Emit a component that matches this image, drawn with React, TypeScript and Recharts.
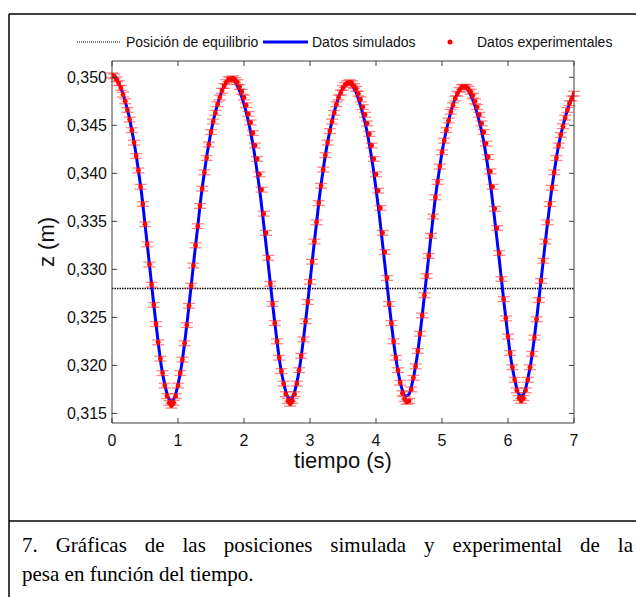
import React from 'react';
import { ComposedChart, Line, Scatter, ErrorBar, XAxis, YAxis, ReferenceLine } from 'recharts';

// sampling of the two series
const SIM_STEP = 0.05; // s between simulated samples
const EXP_FPS = 30; // video frames per second
const EQUILIBRIUM = 0.328;
const EXP_ERROR = 0.00025;

// simulated z (m), one value every 0.05 s from 0 to 7 s
const simZ = [
  0.3502, 0.35, 0.3494, 0.3486, 0.3475, 0.3462, 0.3445, 0.3426, 0.3403, 0.3378,
  0.3347, 0.3316, 0.3284, 0.3253, 0.3224, 0.3198, 0.318, 0.3167, 0.3163, 0.3167,
  0.318, 0.3198, 0.3223, 0.3252, 0.3283, 0.3315, 0.3345, 0.3376, 0.3401, 0.3424,
  0.3443, 0.3459, 0.3472, 0.3483, 0.3491, 0.3497, 0.3499, 0.3497, 0.3491, 0.3483,
  0.3472, 0.3459, 0.3443, 0.3424, 0.3401, 0.3376, 0.3346, 0.3316, 0.3285, 0.3254,
  0.3225, 0.32, 0.3182, 0.3169, 0.3165, 0.3169, 0.3182, 0.3201, 0.3227, 0.3256,
  0.3287, 0.3319, 0.3349, 0.3379, 0.3404, 0.3426, 0.3444, 0.3459, 0.3472, 0.3482,
  0.3489, 0.3494, 0.3494, 0.349, 0.3484, 0.3474, 0.3462, 0.3448, 0.343, 0.3409,
  0.3384, 0.3357, 0.3326, 0.3295, 0.3264, 0.3234, 0.3208, 0.3188, 0.3174, 0.3168,
  0.317, 0.3182, 0.3199, 0.3223, 0.3252, 0.3283, 0.3314, 0.3345, 0.3375, 0.3399,
  0.3422, 0.344, 0.3455, 0.3468, 0.3478, 0.3485, 0.349, 0.349, 0.3486, 0.3479,
  0.347, 0.3458, 0.3444, 0.3426, 0.3404, 0.338, 0.3351, 0.3321, 0.329, 0.3259,
  0.323, 0.3204, 0.3186, 0.3172, 0.3168, 0.3172, 0.3186, 0.3204, 0.3229, 0.3258,
  0.3288, 0.3319, 0.3349, 0.3377, 0.3401, 0.3423, 0.344, 0.3454, 0.3466, 0.3476,
  0.3483,
];

// experimental z (m), one value per video frame (1/30 s) from 0 to 7 s
const expZ = [
  0.3502, 0.3501, 0.3498, 0.3494, 0.3489, 0.3482, 0.3475, 0.3466, 0.3456, 0.3445,
  0.3432, 0.3418, 0.3403, 0.3386, 0.3368, 0.3347, 0.3326, 0.3305, 0.3284, 0.3263,
  0.3243, 0.3224, 0.3207, 0.3192, 0.3179, 0.3168, 0.3161, 0.3158, 0.3161, 0.3168,
  0.3179, 0.3192, 0.3206, 0.3223, 0.3242, 0.3262, 0.3283, 0.3304, 0.3325, 0.3345,
  0.3366, 0.3384, 0.3401, 0.3416, 0.343, 0.3443, 0.3454, 0.3463, 0.3472, 0.3479,
  0.3486, 0.3491, 0.3495, 0.3498, 0.3498, 0.3499, 0.3497, 0.3495, 0.349, 0.3485,
  0.3479, 0.3471, 0.3462, 0.3453, 0.3442, 0.3429, 0.3415, 0.3399, 0.3383, 0.3358,
  0.3338, 0.3312, 0.3285, 0.3264, 0.3244, 0.3225, 0.3208, 0.3194, 0.3181, 0.317,
  0.3163, 0.316, 0.3163, 0.317, 0.3181, 0.3195, 0.321, 0.3227, 0.3246, 0.3266,
  0.3287, 0.3308, 0.3329, 0.3349, 0.3369, 0.3387, 0.3404, 0.3419, 0.3432, 0.3444,
  0.3454, 0.3463, 0.3472, 0.3479, 0.3484, 0.3489, 0.3492, 0.3494, 0.3495, 0.3494,
  0.3491, 0.3488, 0.3483, 0.3477, 0.3469, 0.3461, 0.3452, 0.3441, 0.3429, 0.3415,
  0.3399, 0.3382, 0.3364, 0.3338, 0.3318, 0.3291, 0.3264, 0.3244, 0.3225, 0.3208,
  0.3195, 0.3182, 0.3171, 0.3165, 0.3162, 0.3163, 0.3175, 0.3187, 0.3199, 0.3215,
  0.3233, 0.3252, 0.3273, 0.3293, 0.3314, 0.3335, 0.3355, 0.3375, 0.3391, 0.3407,
  0.3422, 0.3434, 0.3445, 0.3455, 0.3464, 0.3471, 0.3478, 0.3483, 0.3487, 0.349,
  0.349, 0.349, 0.3488, 0.3485, 0.3481, 0.3475, 0.3469, 0.3461, 0.3452, 0.3443,
  0.3431, 0.3417, 0.3402, 0.3386, 0.3363, 0.3343, 0.3317, 0.329, 0.3269, 0.3249,
  0.323, 0.3213, 0.3198, 0.3185, 0.3174, 0.3166, 0.3163, 0.3166, 0.3174, 0.3185,
  0.3198, 0.3212, 0.3229, 0.3248, 0.3268, 0.3288, 0.3309, 0.3329, 0.3349, 0.3368,
  0.3385, 0.3401, 0.3416, 0.3429, 0.344, 0.3449, 0.3458, 0.3466, 0.3473, 0.3478,
  0.3483,
];

const xTicks = [0, 1, 2, 3, 4, 5, 6, 7];
const yTicks = [0.315, 0.32, 0.325, 0.33, 0.335, 0.34, 0.345, 0.35];
const Y_MIN = 0.314;
const Y_MAX = 0.3517;

const simData = simZ.map((z, i) => ({ t: +(i * SIM_STEP).toFixed(3), z }));
const expData = expZ.map((z, i) => ({ t: i / EXP_FPS, z, err: EXP_ERROR }));

const AXIS = '#404040';
const SANS = '"Liberation Sans", Arial, Helvetica, sans-serif';
const SERIF = '"Liberation Serif", "Times New Roman", serif';
const TICK_LEN = 5;

const fmtY = (v: number) => v.toFixed(3).replace('.', ',');

// MATLAB style: ticks point inward on all four sides
const BottomTick = ({ x, y, payload }: any) => (
  <g>
    <line x1={x} y1={y} x2={x} y2={y - TICK_LEN} stroke={AXIS} />
    <text x={x} y={y + 23} textAnchor="middle" fontSize={16} fontFamily={SANS} fill="#111">
      {payload.value}
    </text>
  </g>
);

const TopTick = ({ x, y }: any) => (
  <line x1={x} y1={y} x2={x} y2={y + TICK_LEN} stroke={AXIS} />
);

const LeftTick = ({ x, y, payload }: any) => (
  <g>
    <line x1={x} y1={y} x2={x + TICK_LEN} y2={y} stroke={AXIS} />
    <text x={x - 5} y={y + 6} textAnchor="end" fontSize={16} fontFamily={SANS} fill="#111">
      {fmtY(payload.value)}
    </text>
  </g>
);

const RightTick = ({ x, y }: any) => (
  <line x1={x} y1={y} x2={x - TICK_LEN} y2={y} stroke={AXIS} />
);

const ExpDot = (props: any) => <circle cx={props.cx} cy={props.cy} r={2.4} fill="#ff0000" />;

export default function App() {
  return (
    <div style={{ position: 'absolute', left: 0, top: 0, width: 636, height: 597, background: '#fff', overflow: 'hidden' }}>
      <div style={{ position: 'absolute', left: 0, top: 0 }}>
        <ComposedChart width={636} height={520} margin={{ top: 60, right: 61, bottom: 67, left: 52 }}>
          <XAxis xAxisId="b" dataKey="t" type="number" domain={[0, 7]} ticks={xTicks} interval={0}
            allowDataOverflow height={30} tickSize={0} tickMargin={0} tickLine={false}
            axisLine={{ stroke: AXIS }} tick={BottomTick} />
          <XAxis xAxisId="top" orientation="top" dataKey="t" type="number" domain={[0, 7]} ticks={xTicks} interval={0}
            allowDataOverflow height={1} tickSize={0} tickMargin={0} tickLine={false}
            axisLine={{ stroke: AXIS }} tick={TopTick} />
          <YAxis yAxisId="l" type="number" domain={[Y_MIN, Y_MAX]} ticks={yTicks} interval={0}
            allowDataOverflow width={60} tickSize={0} tickMargin={0} tickLine={false}
            axisLine={{ stroke: AXIS }} tick={LeftTick} />
          <YAxis yAxisId="r" orientation="right" type="number" domain={[Y_MIN, Y_MAX]} ticks={yTicks} interval={0}
            allowDataOverflow width={1} tickSize={0} tickMargin={0} tickLine={false}
            axisLine={{ stroke: AXIS }} tick={RightTick} />
          <ReferenceLine xAxisId="b" yAxisId="l" y={EQUILIBRIUM} stroke="#000" strokeWidth={1.5} strokeDasharray="1.5 1" />
          <Line xAxisId="b" yAxisId="l" data={simData} dataKey="z" type="monotone" stroke="#0000ff"
            strokeWidth={3} dot={false} isAnimationActive={false} />
          <Scatter xAxisId="b" yAxisId="l" data={expData} dataKey="z" shape={ExpDot} isAnimationActive={false}>
            <ErrorBar dataKey="err" direction="y" width={6} stroke="rgba(255,30,30,0.55)" strokeWidth={1.3} isAnimationActive={false} />
          </Scatter>
        </ComposedChart>
      </div>

      <svg width={636} height={597} style={{ position: 'absolute', left: 0, top: 0, pointerEvents: 'none' }}>
        {/* figure frame */}
        <line x1={9} y1={14} x2={636} y2={14} stroke="#000" strokeWidth={1.5} />
        <line x1={9} y1={14} x2={9} y2={597} stroke="#000" strokeWidth={1.5} />
        <line x1={9} y1={521} x2={636} y2={521} stroke="#000" strokeWidth={1.5} />

        {/* legend */}
        <line x1={77} y1={42} x2={121} y2={42} stroke="#000" strokeWidth={1} strokeDasharray="1 1" />
        <text x={126} y={47} fontSize={14} fontFamily={SANS} fill="#111">Posición de equilibrio</text>
        <line x1={263} y1={42} x2={308} y2={42} stroke="#0000ff" strokeWidth={3} />
        <text x={312} y={47} fontSize={14} fontFamily={SANS} fill="#111">Datos simulados</text>
        <circle cx={450} cy={42} r={2.5} fill="#ff0000" />
        <text x={477} y={47} fontSize={14} fontFamily={SANS} fill="#111">Datos experimentales</text>

        {/* axis titles */}
        <text x={343} y={468} textAnchor="middle" fontSize={22} fontFamily={SANS} fill="#111">tiempo (s)</text>
        <text x={46} y={242} textAnchor="middle" dominantBaseline="central" fontSize={22} fontFamily={SANS}
          fill="#111" transform="rotate(-90 46 242)">z (m)</text>
      </svg>

      <div style={{ position: 'absolute', left: 22, top: 531, width: 611, fontFamily: SERIF, fontSize: 21, lineHeight: '29px', color: '#000' }}>
        <div style={{ textAlign: 'justify', textAlignLast: 'justify' }}>
          7. Gráficas de las posiciones simulada y experimental de la
        </div>
        <div>pesa en función del tiempo.</div>
      </div>
    </div>
  );
}
